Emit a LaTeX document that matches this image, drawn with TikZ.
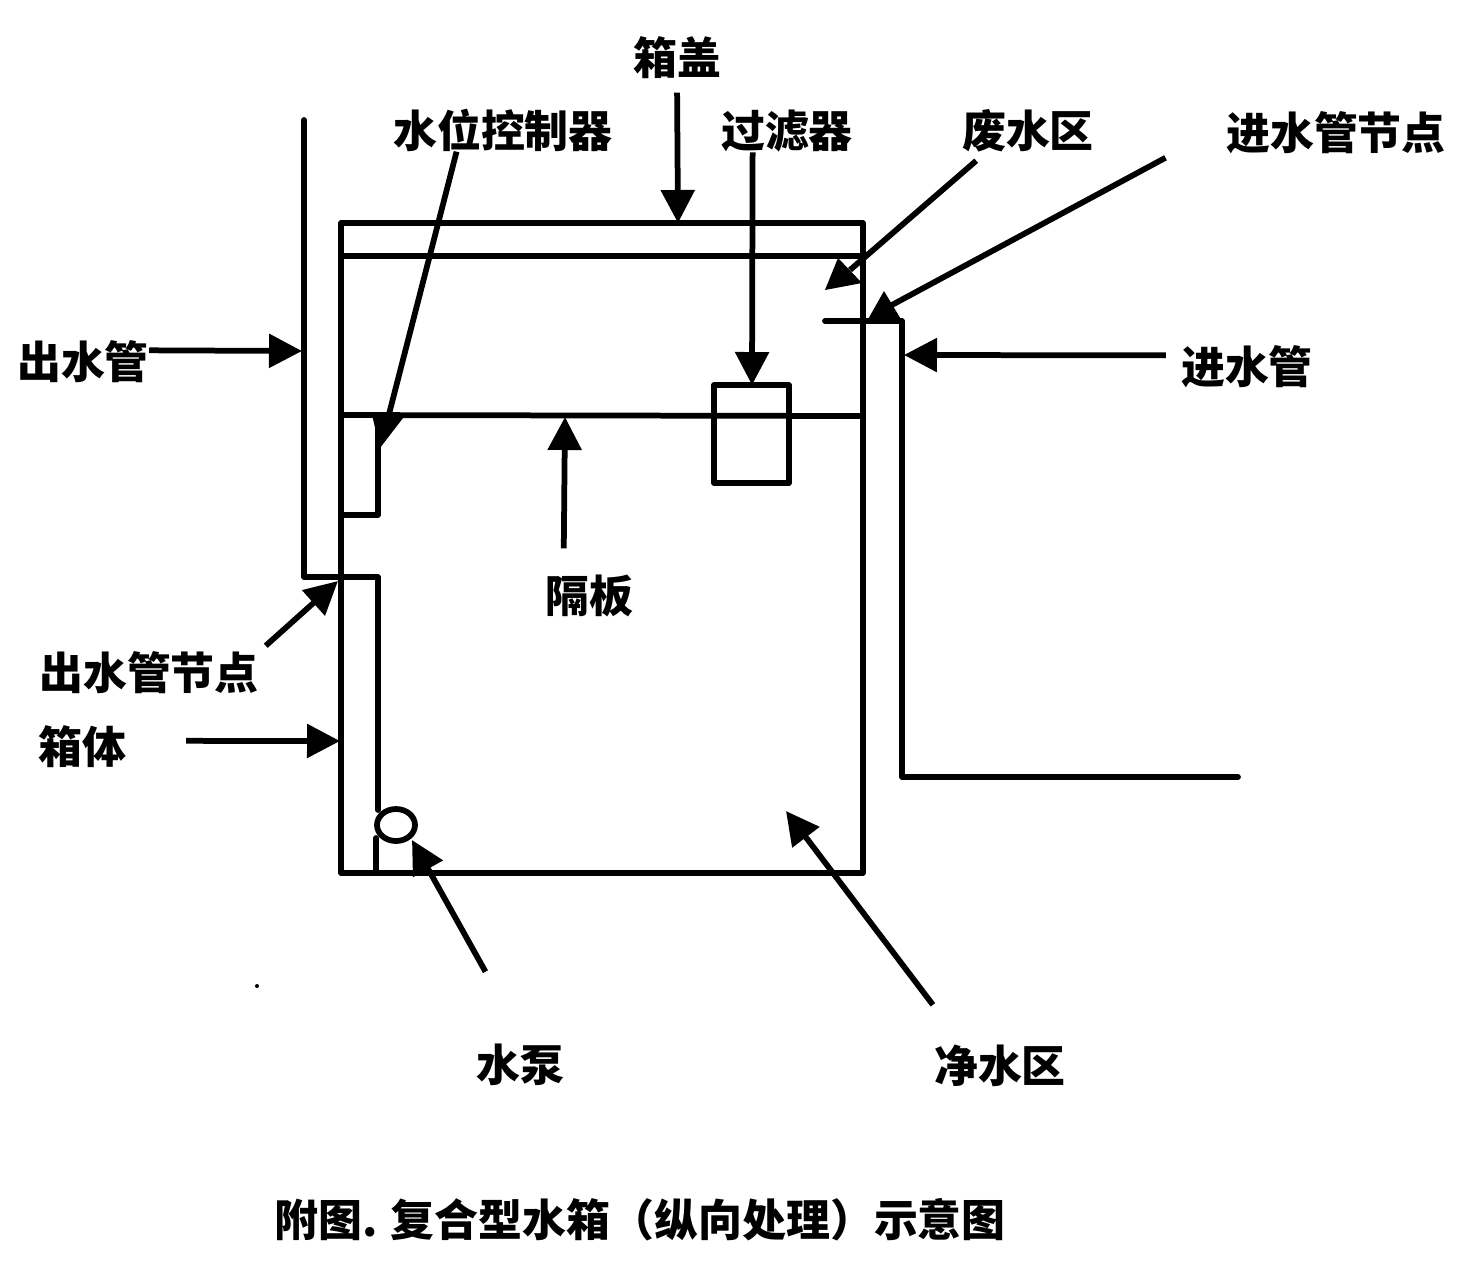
\documentclass[tikz,border=0pt]{standalone}
\usepackage{fontspec}
\setmainfont{Noto Sans CJK SC}
\usepackage{tikz}
\usetikzlibrary{arrows.meta}

\tikzset{
	wall/.style={line width=0.115cm, line cap=round, line join=round},
	leader/.style={line width=0.115cm, -{Triangle[length=0.66cm,width=0.66cm]}},
	plainleader/.style={line width=0.115cm},
	head/.style={fill=black},
}

\begin{document}
\begin{tikzpicture}[x=0.02cm, y=-0.02cm, every node/.style={inner sep=0pt, font=\fontsize{25pt}{27pt}\selectfont\bfseries}]
	\useasboundingbox (0,0) rectangle (1464,1276);

	% labels
	\node (lid)     at (677,58)    {箱盖};
	\node (control) at (503,130)   {水位控制器};
	\node (filter)  at (787,131)   {过滤器};
	\node (waste)   at (1028,131)  {废水区};
	\node (injoint) at (1336,133)  {进水管节点};
	\node (outpipe) at (83,362)    {出水管};
	\node (inpipe)  at (1247,367)  {进水管};
	\node (plate)   at (589,596)   {隔板};
	\node (outjoint) at (149,673)  {出水管节点};
	\node (body)    at (82,747)    {箱体};
	\node (pump)    at (520,1065)  {水泵};
	\node (clean)   at (1000,1066) {净水区};
	\node (caption) at (640,1220)  {附图. 复合型水箱（纵向处理）示意图};

	% tank
	\draw[wall] (341,223) -- (863,223) -- (863,873) -- (341,873) -- cycle;
	\draw[wall] (342,256) -- (863,256);
	\draw[wall] (342,415) -- (863,416);
	\draw[wall] (714,385) rectangle (789,483);
	\draw[wall] (378,416) -- (378,515) -- (342,515);

	% pipes
	\draw[wall] (304,120) -- (304,577) -- (378,577) -- (378,810);
	\draw[wall] (825,321) -- (902,321) -- (902,777) -- (1238,777);
	\draw[wall] (376,838) -- (376,873);
	\draw[wall] (396,825) ellipse (19 and 16);
	\fill (257,986) circle (2);

	% arrow ends
	\coordinate (lidtip)      at (678,223);
	\coordinate (filtertip)   at (752,385);
	\coordinate (platetip)    at (565,417);
	\coordinate (outpipetip)  at (302,351);
	\coordinate (inpipetip)   at (904,355);
	\coordinate (bodytip)     at (340,741);
	\coordinate (pumptip)     at (412,840);
	\coordinate (cleantip)    at (786,811);
	\coordinate (outjointtip) at (338,581);
	\coordinate (controltip)  at (388,418);
	\coordinate (wastetip)    at (850,270);
	\coordinate (injointtip)  at (890,306);

	\draw[leader, shorten <=7.5pt] (lid.south) -- (lidtip);
	\draw[leader] (filter.212) -- (filtertip);
	\draw[leader, shorten <=15pt] (plate.140) -- (platetip);
	\draw[leader] (outpipe.10) -- (outpipetip);
	\draw[leader, shorten <=8.5pt] (inpipe.170) -- (inpipetip);
	\draw[leader, shorten <=34pt] (body.8) -- (bodytip);
	\draw[leader, shorten <=47pt] (pump.75) -- (pumptip);
	\draw[leader, shorten <=28.5pt] (clean.150) -- (cleantip);
	\draw[leader, shorten <=5pt] (outjoint.11) -- (outjointtip);
	\draw[plainleader] (control.205) -- (controltip);
	\draw[plainleader, shorten <=7pt] (waste.207) -- (wastetip);
	\draw[plainleader, shorten <=39pt] (injoint.176) -- (injointtip);

	% heads that sit askew on their lines
	\fill[head] (372,415) -- (403,418) -- (380,448) -- cycle;
	\fill[head] (838,258) -- (862,283) -- (825,290) -- cycle;
	\fill[head] (884,291) -- (867,321) -- (902,321) -- cycle;
\end{tikzpicture}
\end{document}
